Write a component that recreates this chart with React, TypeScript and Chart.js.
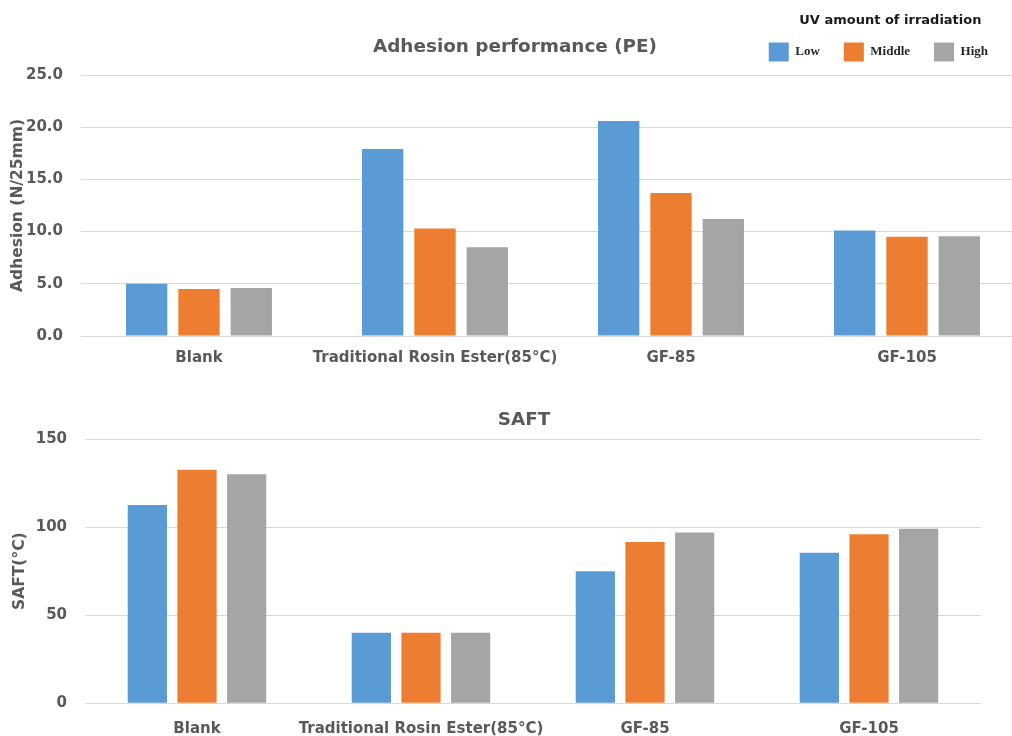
import React, { useEffect, useRef } from 'react';
import { Chart, registerables } from 'chart.js';

Chart.register(...registerables);

// ---------- data ----------
const categories = ['Blank', 'Traditional Rosin Ester(85°C)', 'GF-85', 'GF-105'];
const seriesNames = ['Low', 'Middle', 'High'];
const seriesColors = ['#5B9BD5', '#ED7D31', '#A5A5A5'];

const adhesionLow = [5.0, 17.9, 20.6, 10.1];
const adhesionMiddle = [4.5, 10.3, 13.7, 9.5];
const adhesionHigh = [4.6, 8.5, 11.2, 9.55];

const saftLow = [112.5, 40, 75, 85.5];
const saftMiddle = [132.5, 40, 91.5, 96];
const saftHigh = [130, 40, 97, 99];

const adhesionRange = { min: 0, max: 25, step: 5 };
const saftRange = { min: 0, max: 150, step: 50 };

const adhesionTitle = 'Adhesion performance (PE)';
const saftTitle = 'SAFT';
const adhesionAxisTitle = 'Adhesion (N/25mm)';
const saftAxisTitle = 'SAFT(°C)';
const legendTitle = 'UV amount of irradiation';

// ---------- styles ----------
const SANS = "'DejaVu Sans', sans-serif";
const SERIF = "'Liberation Serif', serif";
const TEXT = '#595959';
const GRID = '#D9D9D9';

const legendRightPlugin = {
  id: 'legendRight',
  afterLayout(chart: any) {
    const lg = chart.legend;
    if (lg) {
      const shift = lg.right - 1012;
      lg.right -= shift;
      lg.left -= shift;
    }
  },
};

function makeDatasets(values: number[][]) {
  return values.map((v, i) => ({
    label: seriesNames[i],
    data: v,
    backgroundColor: seriesColors[i],
    borderWidth: 0,
    categoryPercentage: 0.665,
    barPercentage: 0.79,
  }));
}

function ChartCanvas({ config, width, height, left, top }: any) {
  const ref = useRef<HTMLCanvasElement | null>(null);
  useEffect(() => {
    if (!ref.current) return;
    const chart = new Chart(ref.current, config);
    return () => chart.destroy();
  }, []);
  return (
    <canvas
      ref={ref}
      width={width}
      height={height}
      style={{ position: 'absolute', left, top, width, height }}
    />
  );
}

const topConfig: any = {
  type: 'bar',
  data: {
    labels: categories,
    datasets: makeDatasets([adhesionLow, adhesionMiddle, adhesionHigh]),
  },
  plugins: [legendRightPlugin],
  options: {
    responsive: false,
    animation: false,
    devicePixelRatio: 1,
    events: [],
    layout: { padding: { left: 0, right: 30, top: 0, bottom: 0 } },
    plugins: {
      tooltip: { enabled: false },
      title: {
        display: true,
        text: adhesionTitle,
        color: TEXT,
        font: { family: SANS, size: 18.4, weight: 'bold' },
        padding: { top: 36, bottom: -54.08 },
      },
      legend: {
        display: true,
        position: 'top',
        align: 'end',
        title: {
          display: true,
          text: legendTitle,
          color: '#1a1a1a',
          font: { family: SANS, size: 13, weight: 'bold' },
          padding: { top: 10, bottom: -11.1 },
        },
        labels: {
          boxWidth: 20,
          boxHeight: 19,
          padding: 24,
          color: '#262626',
          font: { family: SERIF, size: 13, weight: 'bold' },
        },
      },
    },
    scales: {
      x: {
        grid: { display: false, drawTicks: false },
        border: { display: false },
        ticks: {
          color: TEXT,
          font: { family: SANS, size: 15, weight: 'bold' },
          padding: 13,
          maxRotation: 0,
          minRotation: 0,
          autoSkip: false,
        },
        afterFit: (s: any) => { s.height = 44; },
      },
      x2: {
        position: 'top',
        display: true,
        grid: { display: false, drawTicks: false },
        border: { display: false },
        ticks: { display: false },
        afterFit: (s: any) => { s.height = 3.5; },
      },
      y: {
        min: adhesionRange.min,
        max: adhesionRange.max,
        grid: { color: GRID, lineWidth: 1, drawTicks: false },
        border: { display: false },
        ticks: {
          stepSize: adhesionRange.step,
          color: TEXT,
          padding: 18,
          font: { family: SANS, size: 15, weight: 'bold' },
          callback: (v: any) => Number(v).toFixed(1),
        },
        title: {
          display: true,
          text: adhesionAxisTitle,
          color: TEXT,
          font: { family: SANS, size: 15.5, weight: 'bold' },
          padding: { top: 8.7, bottom: 0 },
        },
        afterFit: (s: any) => { s.width = 81; },
      },
      y2: {
        position: 'right',
        display: true,
        grid: { display: false, drawTicks: false },
        border: { display: false },
        ticks: { display: false },
        afterFit: (s: any) => { s.width = 5; },
      },
    },
  },
};

const bottomConfig: any = {
  type: 'bar',
  data: {
    labels: categories,
    datasets: makeDatasets([saftLow, saftMiddle, saftHigh]),
  },
  options: {
    responsive: false,
    animation: false,
    devicePixelRatio: 1,
    events: [],
    layout: { padding: 0 },
    plugins: {
      tooltip: { enabled: false },
      legend: { display: false },
      title: {
        display: true,
        text: saftTitle,
        color: TEXT,
        font: { family: SANS, size: 18.4, weight: 'bold' },
        padding: { top: 29, bottom: 7.92 },
      },
    },
    scales: {
      x: {
        grid: { display: false, drawTicks: false },
        border: { display: false },
        ticks: {
          color: TEXT,
          font: { family: SANS, size: 15, weight: 'bold' },
          padding: 16.7,
          maxRotation: 0,
          minRotation: 0,
          autoSkip: false,
        },
        afterFit: (s: any) => { s.height = 56.7; },
      },
      y: {
        min: saftRange.min,
        max: saftRange.max,
        grid: { color: GRID, lineWidth: 1, drawTicks: false },
        border: { display: false },
        ticks: {
          stepSize: saftRange.step,
          color: TEXT,
          padding: 18,
          font: { family: SANS, size: 15, weight: 'bold' },
        },
        title: {
          display: true,
          text: saftAxisTitle,
          color: TEXT,
          font: { family: SANS, size: 15.5, weight: 'bold' },
          padding: { top: 10.7, bottom: 0 },
        },
        afterFit: (s: any) => { s.width = 85; },
      },
      y2: {
        position: 'right',
        display: true,
        grid: { display: false, drawTicks: false },
        border: { display: false },
        ticks: { display: false },
        afterFit: (s: any) => { s.width = 67; },
      },
    },
  },
};

export default function App() {
  return (
    <div
      style={{
        position: 'fixed',
        left: 0,
        top: 0,
        width: 1012,
        height: 736,
        overflow: 'hidden',
        background: '#ffffff',
      }}
    >
      <ChartCanvas config={topConfig} width={1060} height={380} left={0} top={0} />
      <ChartCanvas config={bottomConfig} width={1048} height={380} left={0} top={380} />
    </div>
  );
}
